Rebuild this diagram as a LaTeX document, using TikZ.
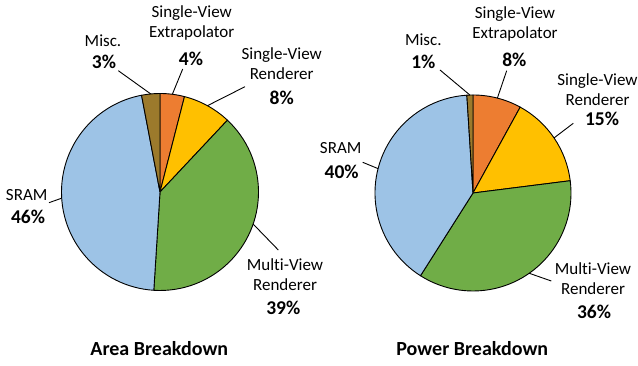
\documentclass[tikz,border=0pt]{standalone}
\usepackage{fontspec}
\setmainfont{Carlito}[Ligatures=NoCommon]
\usetikzlibrary{calc}
\definecolor{cExtrap}{HTML}{ED7D31}
\definecolor{cRend}{HTML}{FFC000}
\definecolor{cMulti}{HTML}{70AD47}
\definecolor{cSram}{HTML}{9DC3E6}
\definecolor{cMisc}{HTML}{9C7A2C}
\begin{document}
\begin{tikzpicture}[x=1pt,y=1pt,
  slice/.style={draw=black,line width=0.9pt,line join=round},
  lbl/.style={align=center,inner sep=0pt,font=\fontsize{17}{20}\selectfont},
  pct/.style={inner sep=0pt,font=\fontsize{19.5}{22}\selectfont\bfseries},
  ttl/.style={inner sep=0pt,font=\fontsize{20}{24}\selectfont\bfseries},
  leader/.style={draw=black,line width=0.9pt}]
\useasboundingbox (0,0) rectangle (638,366);
\fill[white] (0,0) rectangle (638,366);

% ---------- Area breakdown ----------
\coordinate (cA) at (160,174);
\def\rA{98.5}
\foreach \s/\e/\c in {90/75.6/cExtrap, 75.6/46.8/cRend, 46.8/-93.6/cMulti,
                      -93.6/-259.2/cSram, -259.2/-270/cMisc}{
  \filldraw[slice,fill=\c] (cA) -- ++(\s:\rA) arc[start angle=\s,end angle=\e,radius=\rA] -- cycle;
}
\node[lbl] (aMiscN) at (103,325.3) {Misc.};
\node[pct] (aMiscP) at (104,304) {3\%};
\node[lbl] (aExtN) at (191.7,342.7) {Single-View\\Extrapolator};
\node[pct] (aExtP) at (191,307) {4\%};
\node[lbl] (aRenN) at (281.7,302.7) {Single-View\\Renderer};
\node[pct] (aRenP) at (281.7,267.7) {8\%};
\node[lbl] (aSrN) at (26.7,171) {SRAM};
\node[pct] (aSrP) at (28,149.3) {46\%};
\node[lbl] (aMuN) at (285,91.5) {Multi-View\\Renderer};
\node[pct] (aMuP) at (283.3,57.7) {39\%};
\node[ttl] (aTitle) at (159.3,17.7) {Area Breakdown};

\coordinate (aMiscO) at (118.3,295.3);  \coordinate (aMiscI) at ($(cA)+(95.4:\rA)$);
\coordinate (aExtO) at (182.7,297);     \coordinate (aExtI) at ($(cA)+(82.8:\rA)$);
\coordinate (aRenO) at (245,279.3);     \coordinate (aRenI) at ($(cA)+(61.2:\rA)$);
\coordinate (aSrO) at (49,163.3);       \coordinate (aSrI) at ($(cA)+(-176.4:\rA)$);
\coordinate (aMuO) at (278.3,116);      \coordinate (aMuI) at ($(cA)+(-19:\rA)$);
\foreach \p in {aMisc,aExt,aRen,aSr,aMu}{\draw[leader] (\p O) -- (\p I);}

% ---------- Power breakdown ----------
\coordinate (cP) at (473,173);
\def\rP{98}
\foreach \s/\e/\c in {90/61.2/cExtrap, 61.2/7.2/cRend, 7.2/-122.4/cMulti,
                      -122.4/-266.4/cSram, -266.4/-270/cMisc}{
  \filldraw[slice,fill=\c] (cP) -- ++(\s:\rP) arc[start angle=\s,end angle=\e,radius=\rP] -- cycle;
}
\node[lbl] (pMiscN) at (423.3,326.7) {Misc.};
\node[pct] (pMiscP) at (423.3,304.3) {1\%};
\node[lbl] (pExtN) at (515,341.8) {Single-View\\Extrapolator};
\node[pct] (pExtP) at (514.3,306) {8\%};
\node[lbl] (pRenN) at (597.5,276) {Single-View\\Renderer};
\node[pct] (pRenP) at (602,246.7) {15\%};
\node[lbl] (pSrN) at (340.7,217.7) {SRAM};
\node[pct] (pSrP) at (341.7,194.3) {40\%};
\node[lbl] (pMuN) at (593,87) {Multi-View\\Renderer};
\node[pct] (pMuP) at (594,54.3) {36\%};
\node[ttl] (pTitle) at (472.3,17.7) {Power Breakdown};

\coordinate (pMiscO) at (440,296);      \coordinate (pMiscI) at ($(cP)+(91.8:\rP)$);
\coordinate (pExtO) at (506.7,295.3);   \coordinate (pExtI) at ($(cP)+(75.6:\rP)$);
\coordinate (pRenO) at (573.3,242.7);   \coordinate (pRenI) at ($(cP)+(34.2:\rP)$);
\coordinate (pSrO) at (362.7,203.7);    \coordinate (pSrI) at ($(cP)+(165.6:\rP)$);
\coordinate (pMuO) at (551.3,85);       \coordinate (pMuI) at ($(cP)+(-55:\rP)$);
\foreach \p in {pMisc,pExt,pRen,pSr,pMu}{\draw[leader] (\p O) -- (\p I);}
\end{tikzpicture}
\end{document}
